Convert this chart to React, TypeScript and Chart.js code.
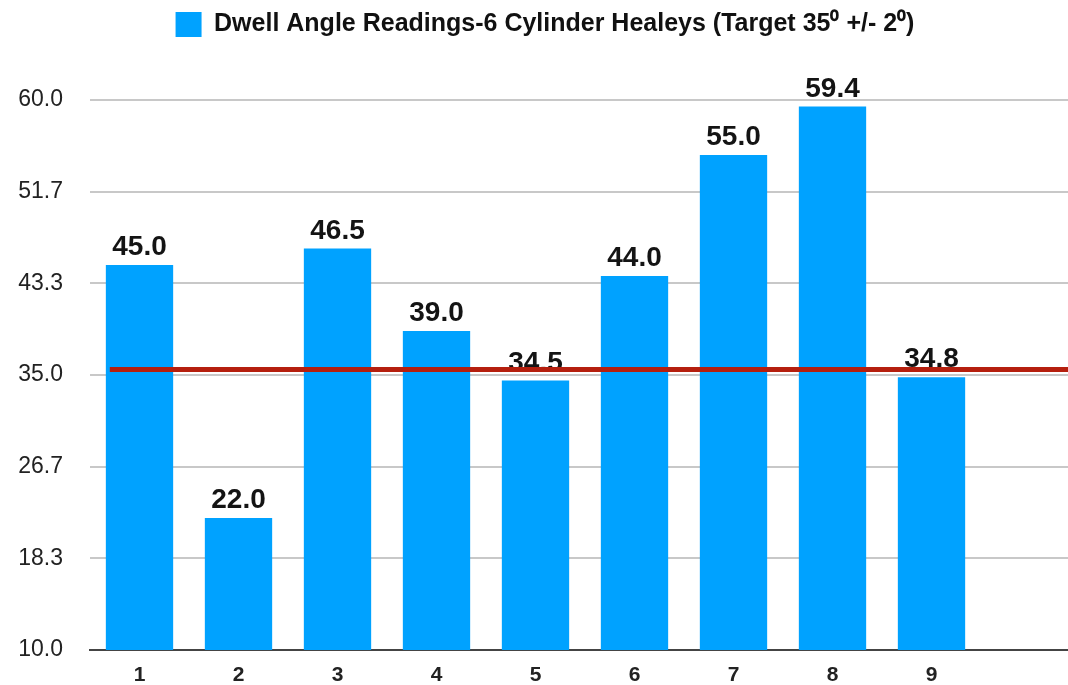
import { useEffect, useRef } from 'react';
import { Chart, registerables } from 'chart.js';

Chart.register(...registerables);

const categories = ['1', '2', '3', '4', '5', '6', '7', '8', '9', ''];
const dwellReadings: (number | null)[] = [45.0, 22.0, 46.5, 39.0, 34.5, 44.0, 55.0, 59.4, 34.8, null];
const yTickValues = [10, 18.333, 26.667, 35, 43.333, 51.667, 60];
const targetLineX = [-0.3, 9.5];
const targetLineY = [35.5, 35.5];
const seriesLabel = 'Dwell Angle Readings-6 Cylinder Healeys (Target 35\u2070 +/- 2\u2070)';

const FONT = "'Liberation Sans', Arial, Helvetica, sans-serif";
const BAR_COLOR = '#00A2FF';
const LINE_COLOR = '#B51F0E';

const valueLabels = {
  id: 'valueLabels',
  beforeDatasetsDraw(chart: any) {
    const meta = chart.getDatasetMeta(0);
    const data = chart.data.datasets[0].data as (number | null)[];
    const ctx = chart.ctx;
    ctx.save();
    ctx.font = `bold 28px ${FONT}`;
    ctx.fillStyle = '#141414';
    ctx.textAlign = 'center';
    ctx.textBaseline = 'alphabetic';
    meta.data.forEach((el: any, i: number) => {
      const v = data[i];
      if (v === null || v === undefined) return;
      ctx.fillText(v.toFixed(1), el.x, el.y - 10);
    });
    ctx.restore();
  },
};

const legendSpace = {
  id: 'legendSpace',
  beforeInit(chart: any) {
    const legend = chart.legend;
    if (!legend) return;
    const origFit = legend.fit;
    legend.fit = function () {
      origFit.call(this);
      this.height = 100;
    };
  },
};

export default function App() {
  const ref = useRef<HTMLCanvasElement>(null);

  useEffect(() => {
    document.documentElement.style.overflow = 'hidden';
    document.body.style.overflow = 'hidden';
    const canvas = ref.current!;
    const chart = new Chart(canvas, {
      type: 'bar',
      data: {
        labels: categories,
        datasets: [
          {
            type: 'bar',
            label: seriesLabel,
            data: dwellReadings,
            backgroundColor: BAR_COLOR,
            borderWidth: 0,
            barPercentage: 0.68,
            categoryPercentage: 1,
            grouped: false,
            order: 1,
            xAxisID: 'x',
          } as any,
          {
            type: 'line',
            label: 'Target',
            data: targetLineX.map((x, i) => ({ x, y: targetLineY[i] })),
            borderColor: LINE_COLOR,
            borderWidth: 5,
            pointRadius: 0,
            fill: false,
            order: 0,
            xAxisID: 'xLine',
          } as any,
        ],
      },
      options: {
        animation: false,
        responsive: true,
        maintainAspectRatio: false,
        devicePixelRatio: 1,
        layout: { padding: { left: 10, right: 10, top: 0, bottom: 0 } },
        plugins: {
          legend: {
            display: true,
            position: 'top',
            labels: {
              filter: (item: any) => item.datasetIndex === 0,
              boxWidth: 26,
              boxHeight: 25,
              padding: 12,
              color: '#111',
              font: { family: FONT, size: 25, weight: 'bold' },
            },
          },
          tooltip: { enabled: false },
        },
        scales: {
          x: {
            type: 'category',
            offset: true,
            grid: { display: false, drawTicks: false },
            border: { display: true, color: '#444', width: 2 },
            ticks: {
              color: '#222',
              padding: 13,
              font: { family: FONT, size: 21, weight: 'bold' },
              maxRotation: 0,
              autoSkip: false,
            },
            afterFit: (s: any) => {
              s.height = 35;
            },
          },
          xLine: {
            type: 'linear',
            display: false,
            offset: false,
            min: -0.5,
            max: 9.5,
          },
          y: {
            min: 10,
            max: 60,
            afterBuildTicks: (s: any) => {
              s.ticks = yTickValues.map((v) => ({ value: v }));
            },
            grid: {
              color: (c: any) => (c.tick && c.tick.value === 10 ? 'rgba(0,0,0,0)' : '#c8c8c8'),
              lineWidth: 2,
              drawTicks: false,
            },
            border: { display: false },
            ticks: {
              color: '#222',
              padding: 27,
              font: { family: FONT, size: 23 },
              callback: (v: any) => Number(v).toFixed(1),
            },
            afterFit: (s: any) => {
              s.width = 80;
              s.paddingTop = 0;
              s.paddingBottom = 0;
            },
          },
        },
      },
      plugins: [valueLabels, legendSpace],
    });
    return () => chart.destroy();
  }, []);

  return (
    <div
      style={{
        position: 'fixed',
        left: 0,
        top: 0,
        width: 1068,
        height: 685,
        overflow: 'hidden',
        background: '#fff',
      }}
    >
      <div style={{ position: 'relative', width: 1090, height: 685 }}>
        <canvas ref={ref} />
      </div>
    </div>
  );
}
